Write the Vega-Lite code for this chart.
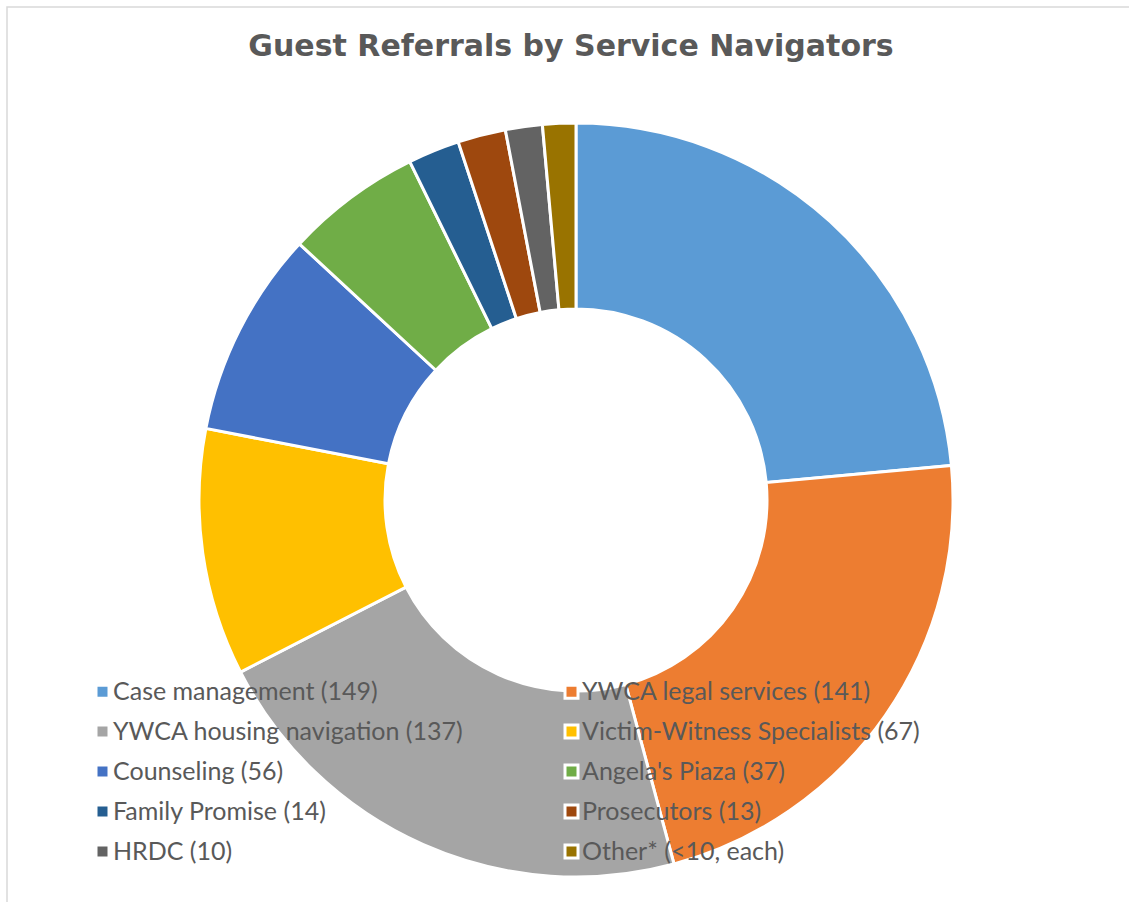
{
  "$schema": "https://vega.github.io/schema/vega-lite/v6.json",
  "autosize": {"type": "none"},
  "padding": {"left": 7, "top": 7, "right": 0, "bottom": 0},
  "width": 1138,
  "height": 986,
  "background": "white",
  "view": {"stroke": "#d9d9d9", "strokeWidth": 1.5, "fill": "white"},
  "title": {
    "text": "Guest Referrals by Service Navigators",
    "font": "DejaVu Sans",
    "fontSize": 30,
    "fontWeight": "bold",
    "color": "#595959",
    "anchor": "middle",
    "baseline": "alphabetic",
    "offset": -79,
    "dx": -5
  },
  "data": {
    "values": [
      {"label": "Case management (149)", "value": 149, "order": 1},
      {"label": "YWCA legal services (141)", "value": 141, "order": 2},
      {"label": "YWCA housing navigation (137)", "value": 137, "order": 3},
      {"label": "Victim-Witness Specialists (67)", "value": 67, "order": 4},
      {"label": "Counseling (56)", "value": 56, "order": 5},
      {"label": "Angela's Piaza (37)", "value": 37, "order": 6},
      {"label": "Family Promise (14)", "value": 14, "order": 7},
      {"label": "Prosecutors (13)", "value": 13, "order": 8},
      {"label": "HRDC (10)", "value": 10, "order": 9},
      {"label": "Other* (<10, each)", "value": 9, "order": 10}
    ]
  },
  "mark": {"type": "arc", "outerRadius": 377, "innerRadius": 191, "stroke": "white", "strokeWidth": 3},
  "encoding": {
    "theta": {"field": "value", "type": "quantitative", "stack": true},
    "order": {"field": "order", "type": "quantitative"},
    "color": {
      "field": "label",
      "type": "nominal",
      "sort": null,
      "scale": {
        "domain": ["Case management (149)", "YWCA legal services (141)", "YWCA housing navigation (137)", "Victim-Witness Specialists (67)", "Counseling (56)", "Angela's Piaza (37)", "Family Promise (14)", "Prosecutors (13)", "HRDC (10)", "Other* (<10, each)"],
        "range": ["#5b9bd5", "#ed7d31", "#a5a5a5", "#ffc000", "#4472c4", "#70ad47", "#255e91", "#9e480e", "#636363", "#997300"]
      },
      "legend": {
        "title": null,
        "orient": "none",
        "direction": "horizontal",
        "legendX": 83,
        "legendY": 672,
        "columns": 2,
        "columnPadding": 95,
        "rowPadding": 14,
        "padding": 0,
        "labelFont": "Lato",
        "labelFontSize": 25,
        "labelColor": "#595959",
        "labelLimit": 0,
        "labelOffset": -2,
        "symbolType": "square",
        "symbolSize": 169,
        "symbolStrokeColor": "white",
        "symbolStrokeWidth": 3,
        "symbolOpacity": 1
      }
    }
  }
}
